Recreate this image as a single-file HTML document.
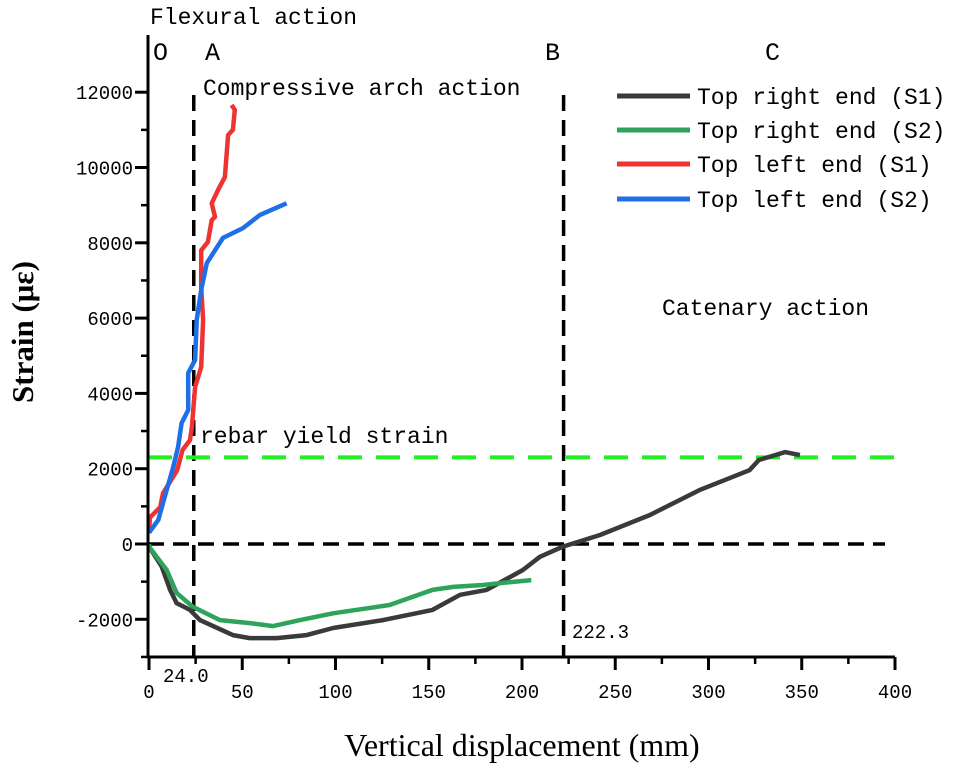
<!DOCTYPE html>
<html><head><meta charset="utf-8"><style>
body{margin:0;background:#fff}
svg{display:block}
.tk{font-family:"Liberation Mono",monospace;font-size:19px;fill:#000}
.mono{font-family:"Liberation Mono",monospace;font-size:23px;fill:#000}
</style></head><body>
<svg id="chart" width="975" height="770">
<g id="grid"></g><g id="series"></g><g id="axes"></g><g id="labels"></g>
</svg>
<script>
const xTicks=[0,50,100,150,200,250,300,350,400];
const yTicks=[-2000,0,2000,4000,6000,8000,10000,12000];
const yieldStrain=2300;
const markA=24.0, markB=222.3;
const redX=[0,0.5,6,7.5,15,18,22,23,24.7,28,29,28,28,31.6,33.6,35.4,33.6,37,40.7,42.4,45,46,44.3];
const redY=[290,700,980,1350,1950,2500,2760,3110,4170,4700,5950,6830,7800,8020,8600,8690,9050,9400,9750,10860,11000,11530,11660];
const blueX=[0,5,7.5,13,15.6,17.5,21,21,24.7,25.6,28,31,39.7,50.4,59.5,73.8];
const blueY=[300,640,1090,2040,2580,3210,3560,4540,4890,5950,6750,7460,8130,8390,8740,9050];
const grayX=[0,0,6.8,11.3,14.8,22,27.3,45,54,68.5,84.5,98.7,125.5,152,166.8,181,200.5,209.6,222,241.8,268.6,295,322,327,341,349];
const grayY=[0,-70,-600,-1220,-1570,-1750,-2020,-2420,-2500,-2500,-2420,-2230,-2020,-1750,-1350,-1220,-690,-340,-70,240,770,1430,1960,2230,2440,2360];
const greenX=[0,0,9.5,14.8,23.6,38,54,66.5,81,98.7,129,152,163,179,188,205];
const greenY=[0,-70,-690,-1300,-1670,-2020,-2100,-2180,-2020,-1840,-1620,-1220,-1140,-1090,-1040,-960];
const sx=v=>149+v*1.865;
const sy=v=>544-v*0.03765;
const NS="http://www.w3.org/2000/svg";
function mk(tag,attrs,parent,text){const e=document.createElementNS(NS,tag);for(const k in attrs)e.setAttribute(k,attrs[k]);if(text!==undefined)e.textContent=text;parent.appendChild(e);return e;}
const G=document.getElementById('grid'),S=document.getElementById('series'),A=document.getElementById('axes'),L=document.getElementById('labels');
let e;
e=mk('line',{x1:sx(markA),x2:sx(markA),y1:95,y2:657,stroke:'#000','stroke-width':3.5,'stroke-dasharray':'16,9'},G);

e=mk('line',{x1:sx(markB),x2:sx(markB),y1:95,y2:657,stroke:'#000','stroke-width':3.5,'stroke-dasharray':'16,9'},G);

e=mk('line',{x1:148,x2:885,y1:sy(0),y2:sy(0),stroke:'#000','stroke-width':3.5,'stroke-dasharray':'16,9'},G);

e=mk('line',{x1:148,x2:895,y1:sy(yieldStrain),y2:sy(yieldStrain),stroke:'#22ee22','stroke-width':4,'stroke-dasharray':'24,14'},G);

function series(xs,ys,col,name){const p=xs.map((x,i)=>(i?'L':'M')+sx(x).toFixed(1)+','+sy(ys[i]).toFixed(1)).join('');
const el=mk('path',{d:p,fill:'none',stroke:col,'stroke-width':4.5,'stroke-linejoin':'round'},S);

}
series(grayX,grayY,'#3a3a3a','series-top-right-s1');
series(greenX,greenY,'#2ea35a','series-top-right-s2');
series(redX,redY,'#ee3333','series-top-left-s1');
series(blueX,blueY,'#1f6fe6','series-top-left-s2');
e=mk('line',{x1:148,x2:148,y1:35,y2:658,stroke:'#000','stroke-width':3},A);

e=mk('line',{x1:147,x2:895,y1:657,y2:657,stroke:'#000','stroke-width':3},A);

xTicks.forEach((v,i)=>{mk('line',{x1:sx(v),x2:sx(v),y1:657,y2:670,stroke:'#000','stroke-width':3},A);
if(i<xTicks.length-1)mk('line',{x1:sx(v+25),x2:sx(v+25),y1:657,y2:664,stroke:'#000','stroke-width':2.5},A);
const t=mk('text',{x:sx(v),y:698,'text-anchor':'middle',class:'tk'},A,String(v));
});
yTicks.forEach(v=>{mk('line',{x1:135,x2:148,y1:sy(v),y2:sy(v),stroke:'#000','stroke-width':3},A);
mk('line',{x1:141,x2:148,y1:sy(v-1000),y2:sy(v-1000),stroke:'#000','stroke-width':2.5},A);
const t=mk('text',{x:133,y:sy(v)+7,'text-anchor':'end',class:'tk'},A,String(v));
});
</script>
<svg style="position:absolute;left:0;top:0" width="975" height="770">
<text x="150" y="24" class="mono">Flexural action</text>
<text x="153" y="60" class="mono" style="font-size:25px">O</text>
<text x="205" y="60" class="mono" style="font-size:25px">A</text>
<text x="545" y="60" class="mono" style="font-size:25px">B</text>
<text x="765" y="60" class="mono" style="font-size:25px">C</text>
<text x="203" y="95" class="mono">Compressive arch action</text>
<text x="662" y="315" class="mono">Catenary action</text>
<text x="200" y="443" class="mono">rebar yield strain</text>
<text x="163" y="682" class="mono" style="font-size:19px">24.0</text>
<text x="572" y="638" class="mono" style="font-size:19px">222.3</text>
<g>
<line x1="617" x2="690" y1="96" y2="96" stroke="#3a3a3a" stroke-width="5"/>
<text x="697" y="104" class="mono">Top right end (S1)</text>
<line x1="617" x2="690" y1="130" y2="130" stroke="#2ea35a" stroke-width="5"/>
<text x="697" y="138" class="mono">Top right end (S2)</text>
<line x1="617" x2="690" y1="164" y2="164" stroke="#ee3333" stroke-width="5"/>
<text x="697" y="172" class="mono">Top left end (S1)</text>
<line x1="617" x2="690" y1="199" y2="199" stroke="#1f6fe6" stroke-width="5"/>
<text x="697" y="207" class="mono">Top left end (S2)</text>
</g>
<text x="522" y="756" text-anchor="middle" style="font-family:'Liberation Serif',serif;font-size:32px">Vertical displacement (mm)</text>
<text transform="translate(33,332) rotate(-90)" text-anchor="middle" style="font-family:'Liberation Serif',serif;font-size:31px;font-weight:bold">Strain (με)</text>
</svg>
</body></html>
